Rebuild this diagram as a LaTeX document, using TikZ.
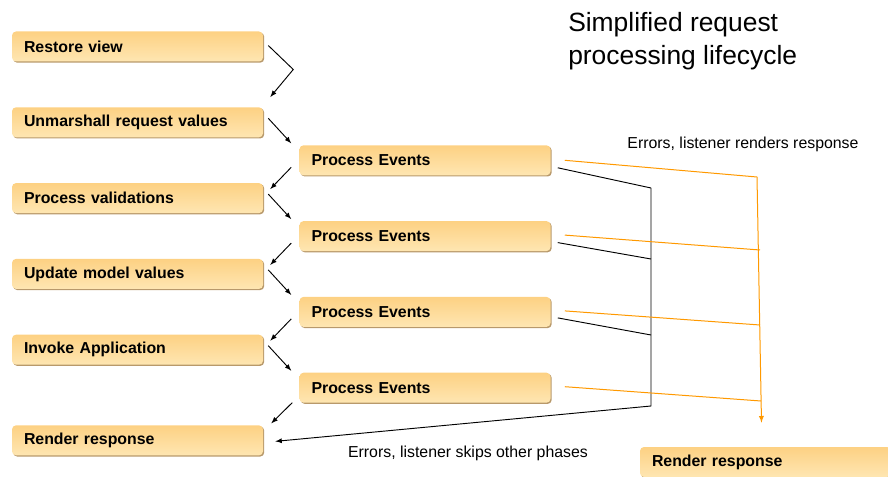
\documentclass[tikz,border=0pt]{standalone}
\usepackage{fontspec}
\setmainfont{Liberation Sans}
\usetikzlibrary{calc,positioning,shadows}
\definecolor{boxtop}{HTML}{FDD183}
\definecolor{boxbottom}{HTML}{FEE6B2}
\definecolor{boxshadow}{HTML}{B8996B}
\definecolor{errline}{HTML}{FF9900}

\begin{document}
\begin{tikzpicture}[
			x=0.75pt, y=-0.75pt,
			>=latex,
			phase/.style={
				rectangle,
				rounded corners=3pt,
				top color=boxtop,
				bottom color=boxbottom,
				drop shadow={shadow xshift=0.9pt, shadow yshift=-0.9pt, fill=boxshadow, opacity=1},
				text width=170.25pt,
				inner xsep=9pt,
				inner ysep=0pt,
				minimum height=22.5pt,
				align=left,
				font=\fontsize{11.9}{13}\selectfont\bfseries,
			},
			lbl/.style={
				font=\fontsize{11.9}{14}\selectfont,
				inner sep=0pt,
			},
			title/.style={
				font=\fontsize{19.8}{24.75}\selectfont,
				align=left,
				inner sep=0pt,
			},
			flow/.style={->, line width=0.7pt},
			err/.style={errline, line width=0.75pt},
			node distance=56.85pt,
		]
		\useasboundingbox (0,0) rectangle (888,477);

		\node[title, anchor=north west] (title) at (568,12) {Simplified request\\processing lifecycle};

		\node[phase] (restore) at (137.5,46.5) {Restore view};
		\node[phase, below of=restore] (unmarshall) {Unmarshall request values};
		\node[phase, below of=unmarshall] (validate) {Process validations};
		\node[phase, below of=validate] (update) {Update model values};
		\node[phase, below of=update] (invoke) {Invoke Application};
		\node[phase, below of=invoke, node distance=68pt] (render) {Render response};

		\node[phase] (events1) at ($(unmarshall)+(287.5,38)$) {Process Events};
		\node[phase] (events2) at ($(validate)+(287.5,38)$) {Process Events};
		\node[phase] (events3) at ($(update)+(287.5,38)$) {Process Events};
		\node[phase] (events4) at ($(invoke)+(287.5,38)$) {Process Events};

		\node[phase] (final) at (765.5,462) {Render response};

		\node[lbl] (errrender) at (743,144) {Errors, listener renders response};
		\node[lbl] (errskip) at (468,453) {Errors, listener skips other phases};

		\draw[flow] ([shift={(5,-1)}]restore.east) -- ++(25,24) -- ([shift={(7,-10)}]unmarshall.north east);

		\draw[flow] ([shift={(5,-4)}]unmarshall.east) -- ([shift={(-8,-17)}]events1.west);
		\draw[flow] ([shift={(-8,7)}]events1.west) -- ([shift={(7,-9)}]validate.east);
		\draw[flow] ([shift={(5,-4)}]validate.east) -- ([shift={(-8,-17)}]events2.west);
		\draw[flow] ([shift={(-8,7)}]events2.west) -- ([shift={(7,-9)}]update.east);
		\draw[flow] ([shift={(5,-4)}]update.east) -- ([shift={(-8,-17)}]events3.west);
		\draw[flow] ([shift={(-8,7)}]events3.west) -- ([shift={(7,-9)}]invoke.east);
		\draw[flow] ([shift={(5,-4)}]invoke.east) -- ([shift={(-8,-17)}]events4.west);
		\draw[flow] ([shift={(-7,15)}]events4.west) -- ([shift={(8,-17)}]render.east);

		% skipping to render response
		\coordinate (skip1) at (651,188);
		\coordinate (skip2) at (651,259);
		\coordinate (skip3) at (651,335);
		\coordinate (skip4) at (651,406);
		\draw[line width=0.7pt] ([shift={(7,7.5)}]events1.east) -- (skip1);
		\draw[line width=0.7pt] ([shift={(7,6.5)}]events2.east) -- (skip2);
		\draw[line width=0.7pt] ([shift={(7,6)}]events3.east) -- (skip3);
		\draw[flow] (skip1) -- (skip4) -- ([shift={(12,1)}]render.east);

		% listener renders response
		\coordinate (rend1) at (757,177);
		\coordinate (rend2) at (760,250);
		\coordinate (rend3) at (760,325);
		\coordinate (rend4) at (761,401);
		\draw[err] ([shift={(14,0)}]events1.east) -- (rend1);
		\draw[err] ([shift={(14,-1)}]events2.east) -- (rend2);
		\draw[err] ([shift={(14,-1)}]events3.east) -- (rend3);
		\draw[err] ([shift={(14,-1)}]events4.east) -- (rend4);
		\draw[err,->] (rend1) -- ([shift={(-4,-24)}]final.north);

	\end{tikzpicture}
\end{document}
